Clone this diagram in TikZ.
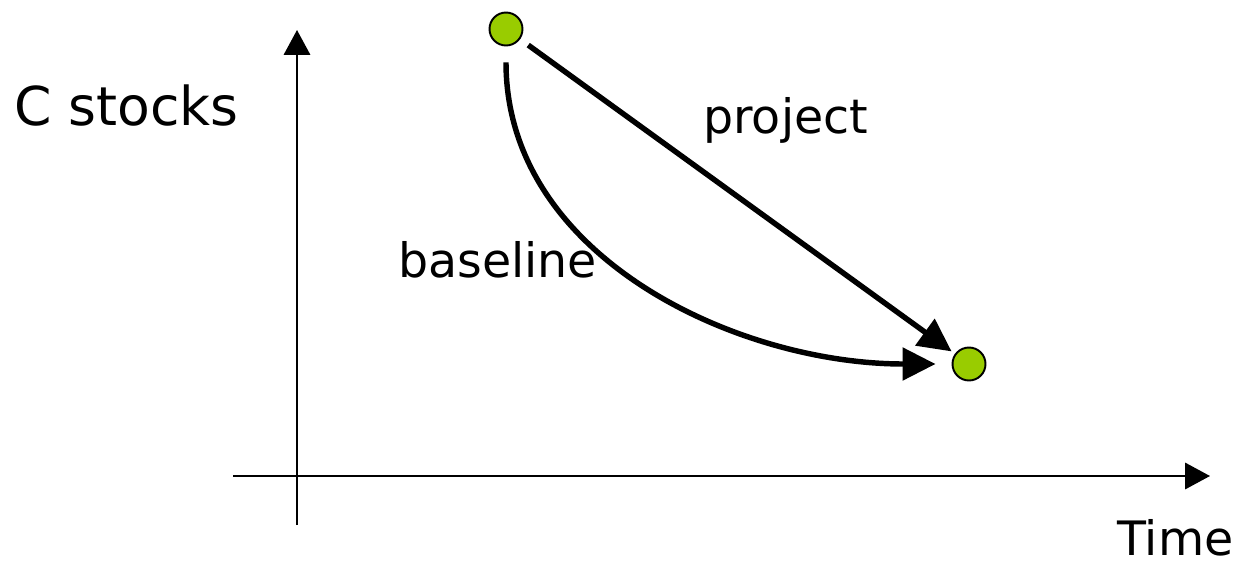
\documentclass[tikz,border=0pt]{standalone}
\usepackage{fontspec}
\setmainfont{DejaVu Sans}
\usetikzlibrary{arrows.meta}
\definecolor{dotgreen}{HTML}{99CC00}
\tikzset{
  dot/.style={circle, draw=black, line width=1.1pt, fill=dotgreen, minimum size=0.66cm, inner sep=0pt},
  axis/.style={line width=1.1pt, -{Triangle[length=0.5cm,width=0.53cm]}},
  flow/.style={line width=3.1pt, -{Triangle[length=0.66cm,width=0.64cm]}},
  biglabel/.style={anchor=base west, inner sep=0pt, text depth=0pt, font=\fontsize{30.5}{36}\selectfont},
  txtlabel/.style={anchor=base west, inner sep=0pt, text depth=0pt, font=\fontsize{27}{32}\selectfont}
}
\begin{document}
\begin{tikzpicture}[x=0.02cm, y=-0.02cm]
    \useasboundingbox (0,0) rectangle (1251,565);
    % Draw the axes
    \coordinate (ybot) at (297,525);
    \coordinate (ytop) at (297,30);
    \coordinate (xleft) at (233,476);
    \coordinate (xright) at (1210,476);
    \draw[axis] (ybot) -- (ytop);
    \draw[axis] (xleft) -- (xright);
    % Draw the axis labels
    \node[biglabel] (cstocks) at (14,125) {C stocks};
    \node[txtlabel] (time) at (1117,555) {Time};
    % Draw the dots
    \node[dot] (start) at (506,29) {};
    \node[dot] (finish) at (969,364) {};
    % Draw the project path
    \draw[flow, shorten <=0.2cm, shorten >=0.08cm] (start) -- (finish);
    \node[txtlabel] (project) at (703,133) {project};
    % Draw the baseline path
    \draw[flow, shorten <=0.32cm, shorten >=0.32cm] (start.south) .. controls +(0,210) and +(-215,0) .. (finish.west);
    \node[txtlabel] (baseline) at (398,277) {baseline};
\end{tikzpicture}
\end{document}
